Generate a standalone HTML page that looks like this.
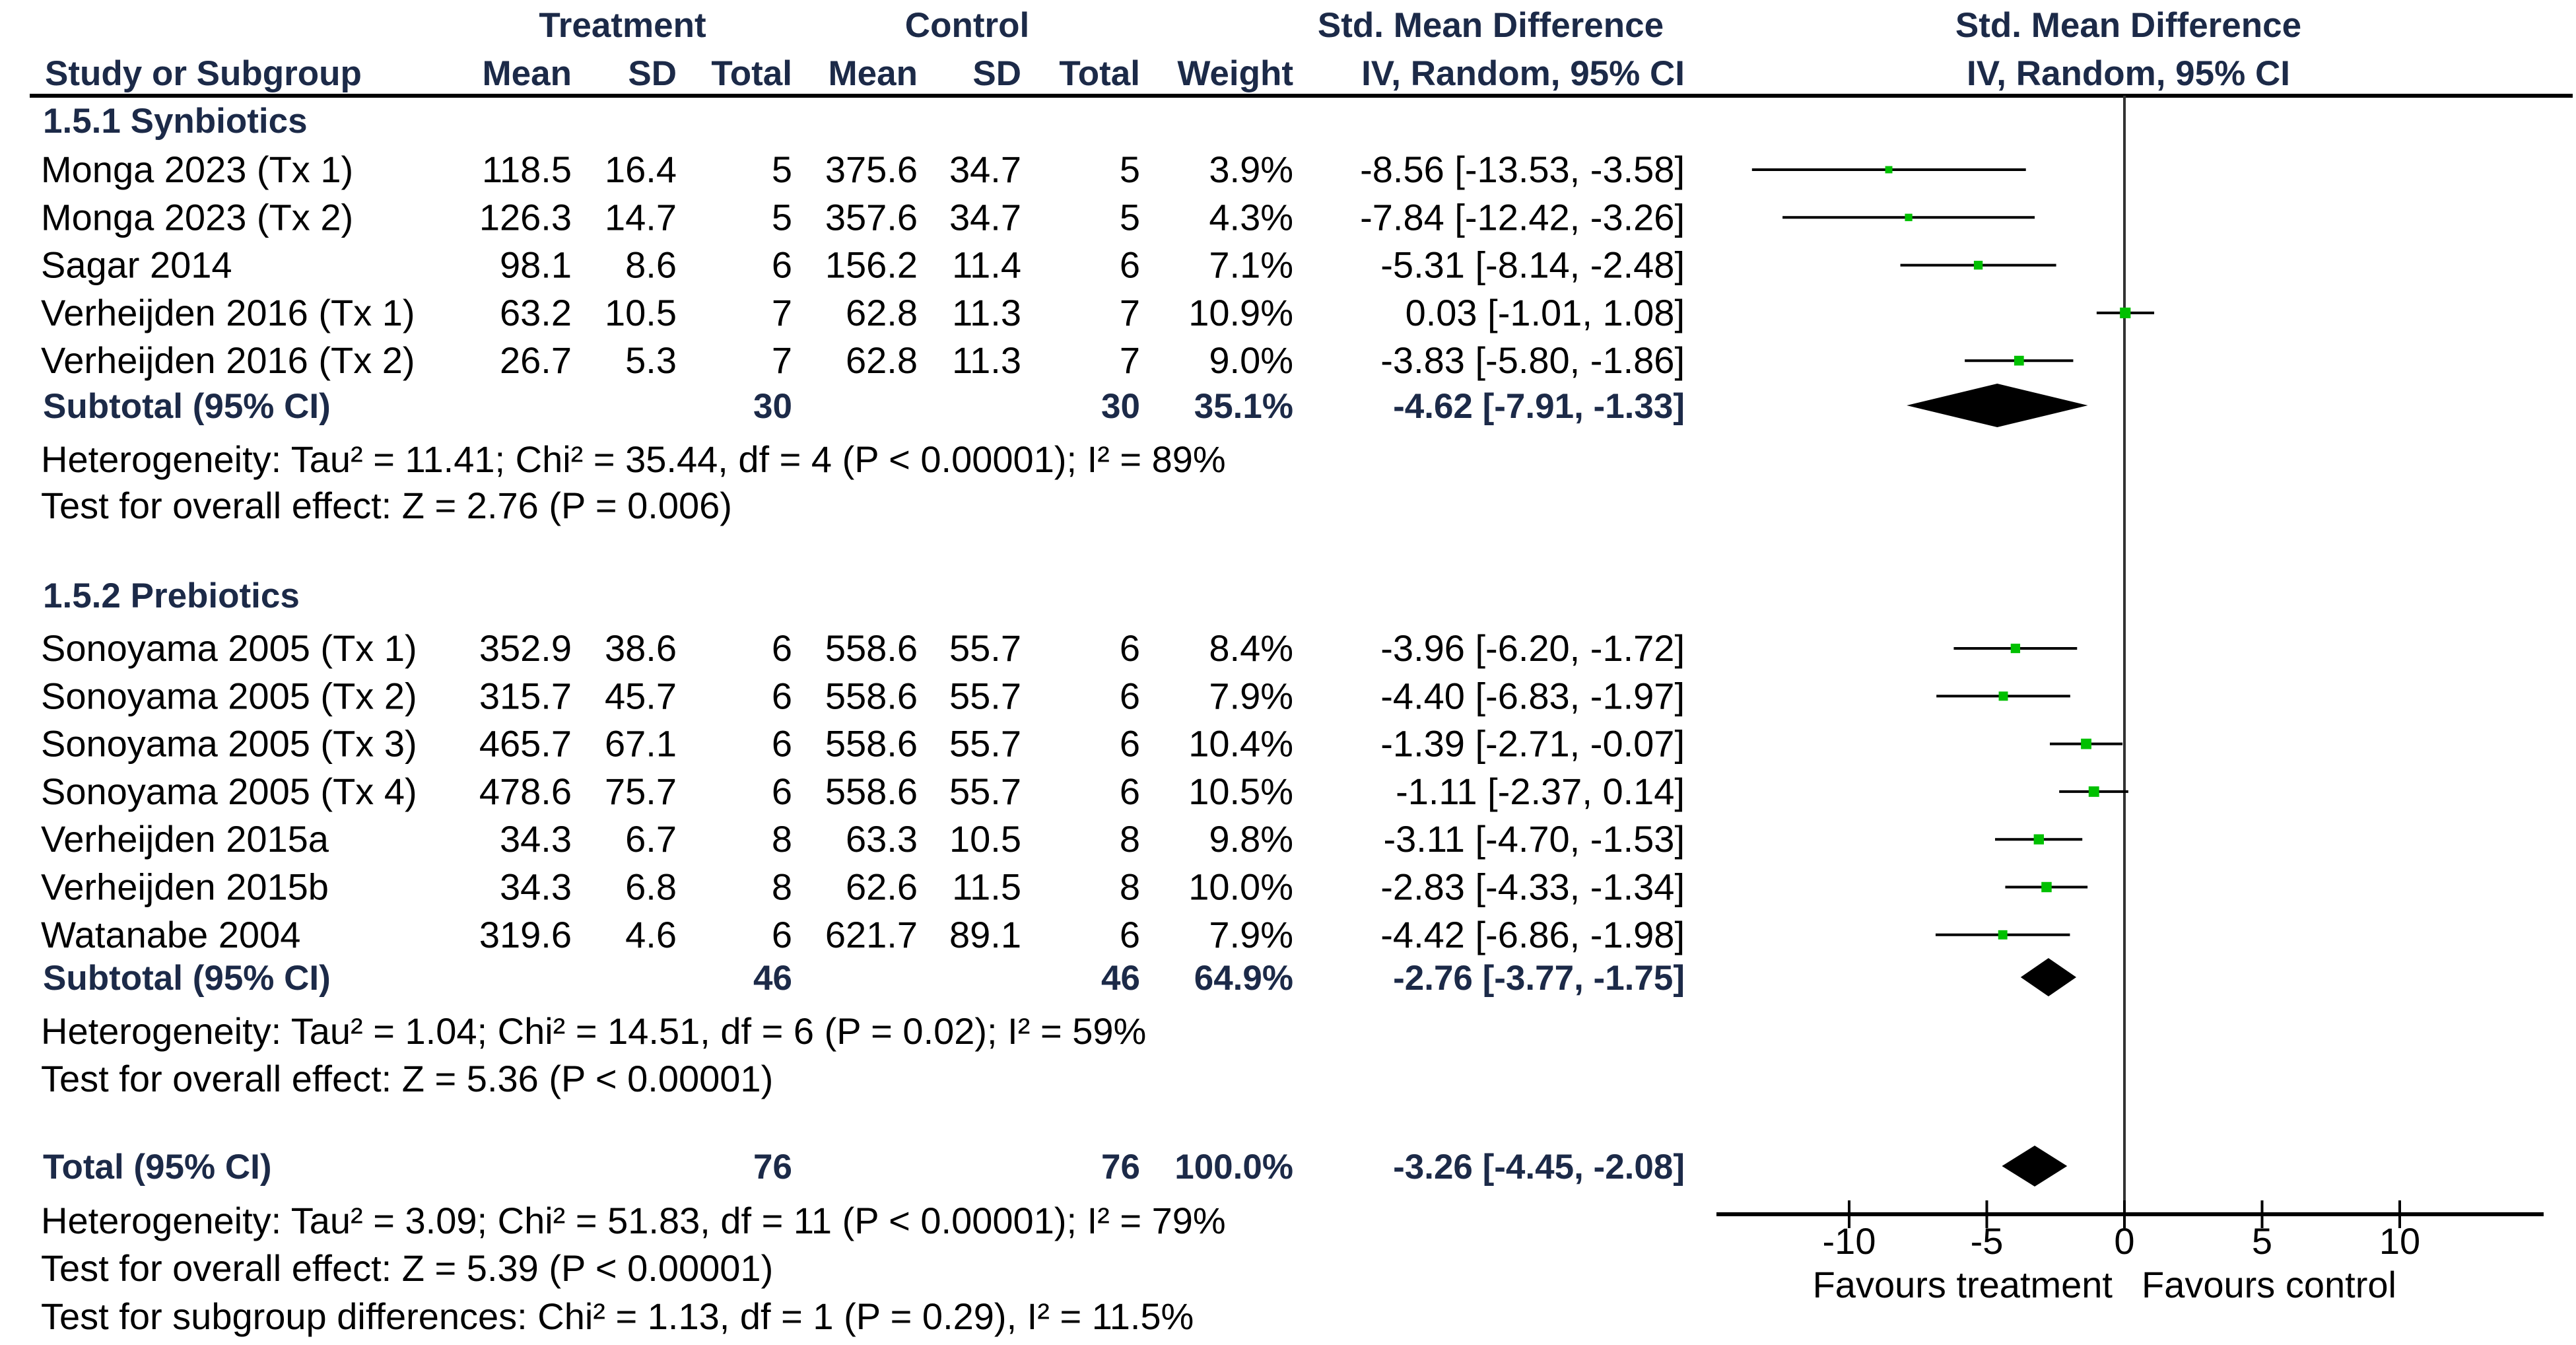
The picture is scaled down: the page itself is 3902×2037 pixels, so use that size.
<!DOCTYPE html>
<html><head><meta charset="utf-8">
<style>
html,body{margin:0;padding:0;background:#fff;width:3902px;height:2037px;overflow:hidden}
svg{display:block}
text{font-family:"Liberation Sans",Arial,sans-serif;font-size:56px;fill:#000}
.b{font-weight:bold;fill:#1c2a48;font-size:53px}
</style></head>
<body>
<svg id="plot" width="3902" height="2037" viewBox="0 0 3902 2037" xmlns="http://www.w3.org/2000/svg"></svg>
<script>
const studyNames1 = ["Monga 2023 (Tx 1)","Monga 2023 (Tx 2)","Sagar 2014","Verheijden 2016 (Tx 1)","Verheijden 2016 (Tx 2)"];
const tMean1 = ["118.5","126.3","98.1","63.2","26.7"];
const tSD1 = ["16.4","14.7","8.6","10.5","5.3"];
const tN1 = [5,5,6,7,7];
const cMean1 = ["375.6","357.6","156.2","62.8","62.8"];
const cSD1 = ["34.7","34.7","11.4","11.3","11.3"];
const cN1 = [5,5,6,7,7];
const weight1 = [3.9,4.3,7.1,10.9,9.0];
const smd1 = [-8.56,-7.84,-5.31,0.03,-3.83];
const lo1 = [-13.53,-12.42,-8.14,-1.01,-5.80];
const hi1 = [-3.58,-3.26,-2.48,1.08,-1.86];

const studyNames2 = ["Sonoyama 2005 (Tx 1)","Sonoyama 2005 (Tx 2)","Sonoyama 2005 (Tx 3)","Sonoyama 2005 (Tx 4)","Verheijden 2015a","Verheijden 2015b","Watanabe 2004"];
const tMean2 = ["352.9","315.7","465.7","478.6","34.3","34.3","319.6"];
const tSD2 = ["38.6","45.7","67.1","75.7","6.7","6.8","4.6"];
const tN2 = [6,6,6,6,8,8,6];
const cMean2 = ["558.6","558.6","558.6","558.6","63.3","62.6","621.7"];
const cSD2 = ["55.7","55.7","55.7","55.7","10.5","11.5","89.1"];
const cN2 = [6,6,6,6,8,8,6];
const weight2 = [8.4,7.9,10.4,10.5,9.8,10.0,7.9];
const smd2 = [-3.96,-4.40,-1.39,-1.11,-3.11,-2.83,-4.42];
const lo2 = [-6.20,-6.83,-2.71,-2.37,-4.70,-4.33,-6.86];
const hi2 = [-1.72,-1.97,-0.07,0.14,-1.53,-1.34,-1.98];

const subtotalLabels = ["Subtotal (95% CI)","Subtotal (95% CI)","Total (95% CI)"];
const subtotalTN = [30,46,76];
const subtotalCN = [30,46,76];
const subtotalW = ["35.1%","64.9%","100.0%"];
const subtotalEst = [-4.62,-2.76,-3.26];
const subtotalLo = [-7.91,-3.77,-4.45];
const subtotalHi = [-1.33,-1.75,-2.08];
const hetText = [
 ["Heterogeneity: Tau² = 11.41; Chi² = 35.44, df = 4 (P < 0.00001); I² = 89%","Test for overall effect: Z = 2.76 (P = 0.006)"],
 ["Heterogeneity: Tau² = 1.04; Chi² = 14.51, df = 6 (P = 0.02); I² = 59%","Test for overall effect: Z = 5.36 (P < 0.00001)"],
 ["Heterogeneity: Tau² = 3.09; Chi² = 51.83, df = 11 (P < 0.00001); I² = 79%","Test for overall effect: Z = 5.39 (P < 0.00001)","Test for subgroup differences: Chi² = 1.13, df = 1 (P = 0.29), I² = 11.5%"]
];
const xTicks = [-10,-5,0,5,10];

const svg = document.getElementById('plot');
const NS = "http://www.w3.org/2000/svg";
const X0 = 3218, UNIT = 41.7;
function xs(v){ return X0 + v*UNIT; }
function el(tag, attrs){ const e=document.createElementNS(NS,tag); for(const k in attrs) e.setAttribute(k,attrs[k]); svg.appendChild(e); return e; }
function txt(s,x,y,anchor,cls,name){
  const t=el('text',{x:x,y:y+19,'text-anchor':anchor||'start'});
  if(cls) t.setAttribute('class',cls);
  t.textContent=s;
  
  
  return t;
}
const C = {study:62, tm:866, ts:1025, tn:1200, cm:1390, cs:1547, cn:1727, w:1959, ci:2552};
function fmt(v){ return v.toFixed(2); }

txt("Treatment",943,37,'middle','b','treatment-header');
txt("Control",1465,37,'middle','b','control-header');
txt("Std. Mean Difference",2258,37,'middle','b','smd-header');
txt("Std. Mean Difference",3224,37,'middle','b','plot-header');
txt("Study or Subgroup",68,110,'start','b','study-header');
[["Mean",C.tm],["SD",C.ts],["Total",C.tn],["Mean",C.cm],["SD",C.cs],["Total",C.cn],["Weight",C.w]].forEach(h=>txt(h[0],h[1],110,'end','b','column-header'));
txt("IV, Random, 95% CI",C.ci,110,'end','b','ci-header');
txt("IV, Random, 95% CI",3224,110,'middle','b','plot-ci-header');
let hl=el('line',{x1:45,y1:145,x2:3897,y2:145,stroke:'#000','stroke-width':6});



let zl=el('line',{x1:xs(0),y1:145,x2:xs(0),y2:1839,stroke:'#333','stroke-width':4});



function studyRow(y,name,tm,ts,tn,cm,cs,cn,w,e,l,h){
  txt(name,C.study,y,'start',null,'study-name');
  txt(tm,C.tm,y,'end',null,'treatment-mean');
  txt(ts,C.ts,y,'end',null,'treatment-sd');
  txt(String(tn),C.tn,y,'end',null,'treatment-total');
  txt(cm,C.cm,y,'end',null,'control-mean');
  txt(cs,C.cs,y,'end',null,'control-sd');
  txt(String(cn),C.cn,y,'end',null,'control-total');
  txt(w.toFixed(1)+"%",C.w,y,'end',null,'weight');
  txt(fmt(e)+" ["+fmt(l)+", "+fmt(h)+"]",C.ci,y,'end',null,'effect-ci');
  const ln=el('line',{x1:xs(l),y1:y,x2:xs(h),y2:y,stroke:'#000','stroke-width':4});
  
  
  const s=8+w*0.75;
  const r=el('rect',{x:xs(e)-s/2,y:y-s/2,width:s,height:s,fill:'#00c000'});
  
  
}
function subRow(y,i,hgt){
  txt(subtotalLabels[i],65,y,'start','b','subtotal-label');
  txt(String(subtotalTN[i]),C.tn,y,'end','b','subtotal-treatment-total');
  txt(String(subtotalCN[i]),C.cn,y,'end','b','subtotal-control-total');
  txt(subtotalW[i],C.w,y,'end','b','subtotal-weight');
  txt(fmt(subtotalEst[i])+" ["+fmt(subtotalLo[i])+", "+fmt(subtotalHi[i])+"]",C.ci,y,'end','b','subtotal-effect');
  const p=el('polygon',{points:[xs(subtotalLo[i])+","+y, xs(subtotalEst[i])+","+(y-hgt/2), xs(subtotalHi[i])+","+y, xs(subtotalEst[i])+","+(y+hgt/2)].join(' '),fill:'#000'});
  
  
}
const RS=72.3;
txt("1.5.1 Synbiotics",65,182,'start','b','subgroup-synbiotics');
studyNames1.forEach((n,i)=>studyRow(257+i*RS,n,tMean1[i],tSD1[i],tN1[i],cMean1[i],cSD1[i],cN1[i],weight1[i],smd1[i],lo1[i],hi1[i]));
subRow(614,0,66);
txt(hetText[0][0],62,696,'start',null,'heterogeneity-text');
txt(hetText[0][1],62,766,'start',null,'overall-effect-text');
txt("1.5.2 Prebiotics",65,901,'start','b','subgroup-prebiotics');
studyNames2.forEach((n,i)=>studyRow(982+i*RS,n,tMean2[i],tSD2[i],tN2[i],cMean2[i],cSD2[i],cN2[i],weight2[i],smd2[i],lo2[i],hi2[i]));
subRow(1480,1,58);
txt(hetText[1][0],62,1562,'start',null,'heterogeneity-text');
txt(hetText[1][1],62,1634,'start',null,'overall-effect-text');
subRow(1766,2,62);
txt(hetText[2][0],62,1849,'start',null,'heterogeneity-text');
txt(hetText[2][1],62,1921,'start',null,'overall-effect-text');
txt(hetText[2][2],62,1994,'start',null,'subgroup-diff-text');

let ax=el('line',{x1:2600,y1:1839,x2:3853,y2:1839,stroke:'#000','stroke-width':6});


xTicks.forEach(v=>{
  const t=el('line',{x1:xs(v),y1:1818,x2:xs(v),y2:1860,stroke:'#000','stroke-width':4});
  
  
  txt(String(v),xs(v),1880,'middle',null,'x-tick-label');
});
txt("Favours treatment",3200,1946,'end',null,'favours-treatment');
txt("Favours control",3244,1946,'start',null,'favours-control');
</script>
</body></html>
